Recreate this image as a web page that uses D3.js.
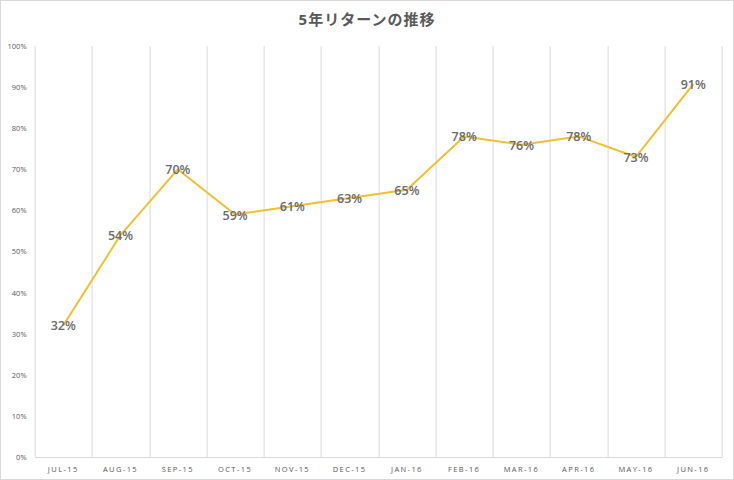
<!DOCTYPE html>
<html>
<head>
<meta charset="utf-8">
<script src="https://cdn.jsdelivr.net/npm/d3@7"></script>
<style>
	body { margin: 0; background: #fff; }
	svg { display: block; font-family: "Open Sans", "Noto Sans CJK JP", sans-serif; }
</style>
</head>
<body>
<div id="chart"></div>
<script>
// data
let months = ["JUL-15", "AUG-15", "SEP-15", "OCT-15", "NOV-15", "DEC-15",
	"JAN-16", "FEB-16", "MAR-16", "APR-16", "MAY-16", "JUN-16"];
let returns = [0.32, 0.54, 0.70, 0.59, 0.61, 0.63, 0.65, 0.78, 0.76, 0.78, 0.73, 0.907];
let yTicks = [0, 0.1, 0.2, 0.3, 0.4, 0.5, 0.6, 0.7, 0.8, 0.9, 1];
let title = "5年リターンの推移";

let W = 734, H = 480;
let margin = { top: 46, right: 12, bottom: 23, left: 34.6 };
let width = 721.9 - margin.left,
	height = 457 - margin.top;

let svg = d3.select('#chart').append('svg')
	.attr('width', W)
	.attr('height', H);

// outer border
svg.append('rect')
	.attr('x', 0.5).attr('y', 0.5)
	.attr('width', W - 1).attr('height', H - 1)
	.attr('fill', '#fff')
	.attr('stroke', '#d9d9d9');

svg.append('text')
	.attr('x', W / 2)
	.attr('y', 25)
	.attr('text-anchor', 'middle')
	.attr('font-size', 15)
	.attr('font-weight', 'bold')
	.attr('letter-spacing', 1)
	.attr('fill', '#595959')
	.text(title);

let g = svg.append('g')
	.attr('transform', 'translate(' + margin.left + ',' + margin.top + ')');

let x = d3.scaleBand()
	.domain(months)
	.range([0, width]);

let y = d3.scaleLinear()
	.domain([0, 1])
	.range([height, 0]);

// vertical gridlines on category boundaries
let bounds = months.map(function(m) { return x(m); }).concat([width]);
g.selectAll('.vgrid')
	.data(bounds)
	.enter().append('line').classed('vgrid', true)
	.attr('x1', function(d) { return Math.round(d) + 0.5; })
	.attr('x2', function(d) { return Math.round(d) + 0.5; })
	.attr('y1', 0)
	.attr('y2', height)
	.attr('stroke', '#d9d9d9')
	.attr('stroke-width', 1);

// x axis
let xAxis = d3.axisBottom(x).tickSize(0).tickPadding(10);
let xg = g.append('g')
	.attr('transform', 'translate(0,' + height + ')')
	.call(xAxis);
xg.select('.domain').attr('stroke', '#d9d9d9');
xg.selectAll('text')
	.attr('font-size', 7.5)
	.attr('letter-spacing', 1.4)
	.attr('fill', '#595959')
	.attr('font-family', '"Open Sans", sans-serif');

// y axis
let yAxis = d3.axisLeft(y)
	.tickValues(yTicks)
	.tickFormat(d3.format('.0%'))
	.tickSize(0)
	.tickPadding(8);
let yg = g.append('g').call(yAxis);
yg.select('.domain').remove();
yg.selectAll('text')
	.attr('font-size', 7.5)
	.attr('fill', '#595959')
	.attr('font-family', '"Open Sans", sans-serif');

// line
let line = d3.line()
	.x(function(d, i) { return x(months[i]) + x.bandwidth() / 2; })
	.y(function(d) { return y(d); });

g.append('path')
	.datum(returns)
	.attr('d', line)
	.attr('fill', 'none')
	.attr('stroke', '#F2BF30')
	.attr('stroke-width', 2)
	.attr('stroke-linejoin', 'round');

// data labels
g.selectAll('.lbl')
	.data(returns)
	.enter().append('text').classed('lbl', true)
	.attr('x', function(d, i) { return x(months[i]) + x.bandwidth() / 2; })
	.attr('y', function(d) { return y(d); })
	.attr('dy', '0.4em')
	.attr('text-anchor', 'middle')
	.attr('font-size', 12.5)
	.attr('font-weight', 600)
	.attr('fill', '#6b6b6b')
	.text(d3.format('.0%'));
</script>
</body>
</html>
